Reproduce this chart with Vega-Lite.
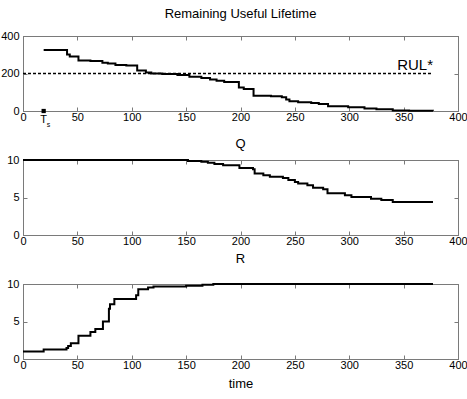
{
  "$schema": "https://vega.github.io/schema/vega-lite/v6.json",
  "padding": {"left": 0, "top": 7, "right": 0, "bottom": 0},
  "background": "white",
  "bounds": "flush",
  "spacing": 49,
  "config": {
    "font": "Liberation Sans",
    "view": {"stroke": "#7a7a7a", "strokeWidth": 1},
    "axis": {
      "grid": false,
      "domainColor": "#7a7a7a",
      "tickColor": "#7a7a7a",
      "tickSize": -4,
      "labelColor": "black",
      "labelFont": "Liberation Sans",
      "labelFontSize": 11,
      "titleFont": "Liberation Sans",
      "titleFontWeight": "normal",
      "titleColor": "black",
      "labelBound": false,
      "labelOverlap": false,
      "labelFlush": false
    },
    "title": {"font": "Liberation Sans", "fontWeight": "normal", "fontSize": 13, "color": "black"},
    "line": {"color": "black"}
  },
  "datasets": {
    "rul": [
      {"t": 19, "v": 325}, {"t": 40.5, "v": 302}, {"t": 43, "v": 291}, {"t": 51, "v": 270}, {"t": 62, "v": 267},
      {"t": 73, "v": 258}, {"t": 78, "v": 253}, {"t": 85, "v": 246}, {"t": 95, "v": 243}, {"t": 105, "v": 216},
      {"t": 113, "v": 206}, {"t": 118, "v": 200}, {"t": 128, "v": 197}, {"t": 142, "v": 192}, {"t": 153, "v": 183},
      {"t": 164, "v": 176}, {"t": 172, "v": 168}, {"t": 178, "v": 161}, {"t": 185, "v": 155}, {"t": 198.5, "v": 125},
      {"t": 203, "v": 117}, {"t": 212, "v": 82}, {"t": 228, "v": 79}, {"t": 238, "v": 74}, {"t": 242, "v": 62},
      {"t": 245, "v": 52}, {"t": 253, "v": 47}, {"t": 265, "v": 43}, {"t": 272, "v": 38}, {"t": 280.5, "v": 25},
      {"t": 299, "v": 20}, {"t": 314, "v": 14}, {"t": 325, "v": 10}, {"t": 340, "v": 3}, {"t": 355, "v": 2},
      {"t": 377, "v": 1}
    ],
    "rulstar": [{"t": 0, "v": 200, "label": ""}, {"t": 377, "v": 200, "label": "RUL*"}],
    "ts": [{"t": 19, "v": 0, "main": "T", "sub": "s"}],
    "q": [
      {"t": 0, "v": 10}, {"t": 151.7, "v": 9.88}, {"t": 164, "v": 9.78}, {"t": 170, "v": 9.65}, {"t": 176, "v": 9.47},
      {"t": 184, "v": 9.3}, {"t": 199, "v": 8.95}, {"t": 211.5, "v": 8.78}, {"t": 213, "v": 8.2}, {"t": 221, "v": 7.96},
      {"t": 227, "v": 7.78}, {"t": 239, "v": 7.6}, {"t": 244, "v": 7.33}, {"t": 250, "v": 7.07}, {"t": 253, "v": 6.88},
      {"t": 261.5, "v": 6.62}, {"t": 266.7, "v": 6.31}, {"t": 276, "v": 6.09}, {"t": 280, "v": 5.56}, {"t": 296, "v": 5.29},
      {"t": 302, "v": 5.07}, {"t": 320, "v": 4.84}, {"t": 329.5, "v": 4.67}, {"t": 340, "v": 4.4}, {"t": 377, "v": 4.4}
    ],
    "r": [
      {"t": 0, "v": 1.0}, {"t": 19, "v": 1.26}, {"t": 40, "v": 1.47}, {"t": 41.5, "v": 1.73}, {"t": 44, "v": 2.1},
      {"t": 51, "v": 3.1}, {"t": 62, "v": 3.6}, {"t": 66.5, "v": 4.0}, {"t": 73.5, "v": 5.0}, {"t": 79, "v": 6.7},
      {"t": 80, "v": 7.3}, {"t": 84, "v": 8.0}, {"t": 104, "v": 8.5}, {"t": 106, "v": 9.3}, {"t": 115, "v": 9.55},
      {"t": 120, "v": 9.68}, {"t": 150, "v": 9.78}, {"t": 165, "v": 9.9}, {"t": 175, "v": 10}, {"t": 377, "v": 10}
    ]
  },
  "vconcat": [
    {
      "width": 435, "height": 75,
      "title": {"text": "Remaining Useful Lifetime", "offset": 9},
      "layer": [
        {
          "data": {"name": "rul"},
          "mark": {"type": "line", "interpolate": "step-after", "strokeWidth": 2},
          "encoding": {
            "x": {"field": "t", "type": "quantitative", "scale": {"domain": [0, 400], "nice": false}, "axis": {"title": null, "values": [0, 50, 100, 150, 200, 250, 300, 350, 400], "labelPadding": 4}},
            "y": {"field": "v", "type": "quantitative", "scale": {"domain": [0, 400], "nice": false}, "axis": {"title": null, "values": [0, 200, 400], "labelPadding": 8}}
          }
        },
        {
          "data": {"name": "rul"},
          "mark": {"type": "line", "opacity": 0},
          "encoding": {
            "x": {"field": "t", "type": "quantitative", "axis": {"orient": "top", "title": null, "labels": false, "values": [0, 50, 100, 150, 200, 250, 300, 350, 400]}},
            "y": {"field": "v", "type": "quantitative", "axis": {"orient": "right", "title": null, "labels": false, "values": [0, 200, 400]}}
          }
        },
        {
          "data": {"name": "rulstar"},
          "mark": {"type": "line", "strokeDash": [3, 2], "strokeWidth": 1.5, "color": "black"},
          "encoding": {"x": {"field": "t", "type": "quantitative", "axis": null}, "y": {"field": "v", "type": "quantitative", "axis": null}}
        },
        {
          "data": {"name": "rulstar"},
          "mark": {"type": "text", "align": "right", "baseline": "bottom", "dy": -1, "fontSize": 15, "color": "black"},
          "encoding": {"x": {"field": "t", "type": "quantitative", "axis": null}, "y": {"field": "v", "type": "quantitative", "axis": null}, "text": {"field": "label"}}
        },
        {
          "data": {"name": "ts"},
          "mark": {"type": "square", "filled": true, "size": 18, "color": "black", "opacity": 1},
          "encoding": {"x": {"field": "t", "type": "quantitative", "axis": null}, "y": {"field": "v", "type": "quantitative", "axis": null}}
        },
        {
          "data": {"name": "ts"},
          "mark": {"type": "text", "align": "center", "baseline": "middle", "dy": 9, "fontSize": 11, "color": "black"},
          "encoding": {"x": {"field": "t", "type": "quantitative", "axis": null}, "y": {"field": "v", "type": "quantitative", "axis": null}, "text": {"field": "main"}}
        },
        {
          "data": {"name": "ts"},
          "mark": {"type": "text", "align": "left", "baseline": "middle", "dx": 3, "dy": 14, "fontSize": 7, "color": "black"},
          "encoding": {"x": {"field": "t", "type": "quantitative", "axis": null}, "y": {"field": "v", "type": "quantitative", "axis": null}, "text": {"field": "sub"}}
        }
      ],
      "resolve": {"axis": {"x": "independent", "y": "independent"}}
    },
    {
      "width": 435, "height": 75,
      "title": {"text": "Q", "offset": 3},
      "layer": [
        {
          "data": {"name": "q"},
          "mark": {"type": "line", "interpolate": "step-after", "strokeWidth": 2},
          "encoding": {
            "x": {"field": "t", "type": "quantitative", "scale": {"domain": [0, 400], "nice": false}, "axis": {"title": null, "values": [0, 50, 100, 150, 200, 250, 300, 350, 400], "labelPadding": 4}},
            "y": {"field": "v", "type": "quantitative", "scale": {"domain": [0, 10], "nice": false}, "axis": {"title": null, "values": [0, 5, 10], "labelPadding": 8}}
          }
        },
        {
          "data": {"name": "q"},
          "mark": {"type": "line", "opacity": 0},
          "encoding": {
            "x": {"field": "t", "type": "quantitative", "axis": {"orient": "top", "title": null, "labels": false, "values": [0, 50, 100, 150, 200, 250, 300, 350, 400]}},
            "y": {"field": "v", "type": "quantitative", "axis": {"orient": "right", "title": null, "labels": false, "values": [0, 5, 10]}}
          }
        }
      ],
      "resolve": {"axis": {"x": "independent", "y": "independent"}}
    },
    {
      "width": 435, "height": 75,
      "title": {"text": "R", "offset": 12},
      "layer": [
        {
          "data": {"name": "r"},
          "mark": {"type": "line", "interpolate": "step-after", "strokeWidth": 2},
          "encoding": {
            "x": {"field": "t", "type": "quantitative", "scale": {"domain": [0, 400], "nice": false}, "axis": {"title": "time", "titleFontSize": 13, "titlePadding": 7, "values": [0, 50, 100, 150, 200, 250, 300, 350, 400], "labelPadding": 4}},
            "y": {"field": "v", "type": "quantitative", "scale": {"domain": [0, 10], "nice": false}, "axis": {"title": null, "values": [0, 5, 10], "labelPadding": 8}}
          }
        },
        {
          "data": {"name": "r"},
          "mark": {"type": "line", "opacity": 0},
          "encoding": {
            "x": {"field": "t", "type": "quantitative", "axis": {"orient": "top", "title": null, "labels": false, "values": [0, 50, 100, 150, 200, 250, 300, 350, 400]}},
            "y": {"field": "v", "type": "quantitative", "axis": {"orient": "right", "title": null, "labels": false, "values": [0, 5, 10]}}
          }
        }
      ],
      "resolve": {"axis": {"x": "independent", "y": "independent"}}
    }
  ]
}
